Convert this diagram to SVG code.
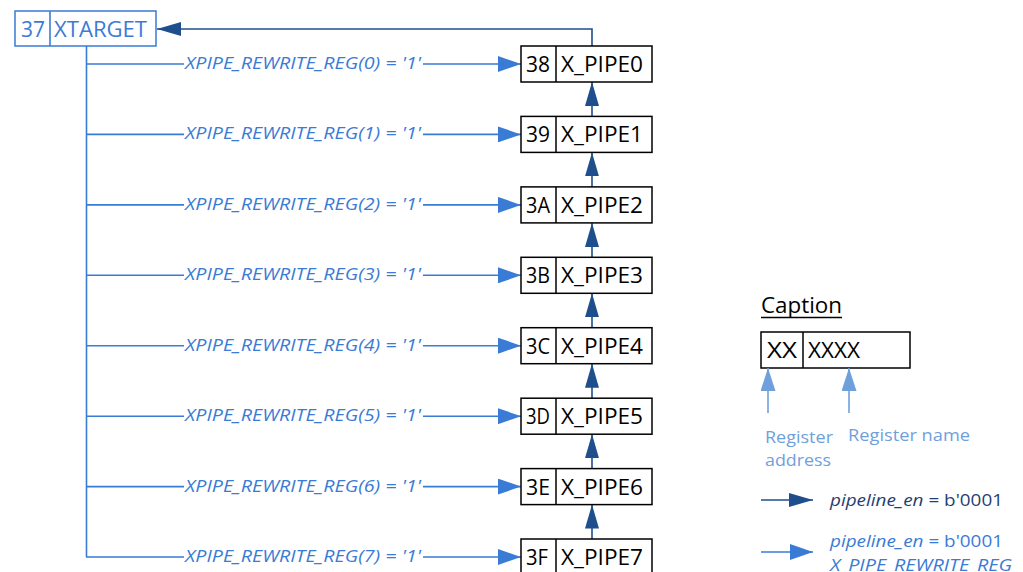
<svg xmlns="http://www.w3.org/2000/svg" width="1023" height="572" viewBox="0 0 1023 572">
<style>
.box{fill:#fff;stroke:#000;stroke-width:1.5}
.tbox{fill:#fff;stroke:#3a7bd5;stroke-width:1.5}
.bt{font-family:"Open Sans","DejaVu Sans",sans-serif;font-size:22px;fill:#000}
.tt{font-family:"Open Sans","DejaVu Sans",sans-serif;font-size:22px;fill:#3a7bd5}
.lbl{font-family:"Open Sans","DejaVu Sans",sans-serif;font-size:15.5px;font-style:italic;fill:#3a7bd5}
.bl{stroke:#3a7bd5;stroke-width:1.6;fill:none}
.dk{stroke:#1f4e8c;stroke-width:1.6;fill:none}
.lt{stroke:#6fa0dc;stroke-width:1.6;fill:none}
.cap{font-family:"Open Sans","DejaVu Sans",sans-serif;font-size:17px;fill:#6fa0dc}
.leg{font-family:"Open Sans","DejaVu Sans",sans-serif;font-size:16.5px}
</style>
<defs>
<marker id="ad" markerUnits="userSpaceOnUse" markerWidth="24" markerHeight="14" refX="24" refY="7" orient="auto"><path d="M0,0 L24,7 L0,14 z" fill="#1f4e8c"/></marker>
<marker id="ab" markerUnits="userSpaceOnUse" markerWidth="23" markerHeight="16" refX="23" refY="8" orient="auto"><path d="M0,0 L23,8 L0,16 z" fill="#3a7bd5"/></marker>
<marker id="al" markerUnits="userSpaceOnUse" markerWidth="23" markerHeight="15" refX="23" refY="7.5" orient="auto"><path d="M0,0 L23,7.5 L0,15 z" fill="#6fa0dc"/></marker>
</defs>

<g id="connectors">
<path class="bl" d="M86.5,46 V557"/>
<g class="bl">
<path d="M86,64 H184 M423,64 H521" marker-end="url(#ab)"/>
<path d="M86,134.4 H184 M423,134.4 H521" marker-end="url(#ab)"/>
<path d="M86,204.9 H184 M423,204.9 H521" marker-end="url(#ab)"/>
<path d="M86,275.3 H184 M423,275.3 H521" marker-end="url(#ab)"/>
<path d="M86,345.7 H184 M423,345.7 H521" marker-end="url(#ab)"/>
<path d="M86,416.2 H184 M423,416.2 H521" marker-end="url(#ab)"/>
<path d="M86,486.6 H184 M423,486.6 H521" marker-end="url(#ab)"/>
<path d="M86,557 H184 M423,557 H521" marker-end="url(#ab)"/>
</g>
<g class="lbl">
<text x="185" y="69" textLength="236" lengthAdjust="spacingAndGlyphs">XPIPE_REWRITE_REG(0) = '1'</text>
<text x="185" y="139.4" textLength="236" lengthAdjust="spacingAndGlyphs">XPIPE_REWRITE_REG(1) = '1'</text>
<text x="185" y="209.9" textLength="236" lengthAdjust="spacingAndGlyphs">XPIPE_REWRITE_REG(2) = '1'</text>
<text x="185" y="280.3" textLength="236" lengthAdjust="spacingAndGlyphs">XPIPE_REWRITE_REG(3) = '1'</text>
<text x="185" y="350.7" textLength="236" lengthAdjust="spacingAndGlyphs">XPIPE_REWRITE_REG(4) = '1'</text>
<text x="185" y="421.2" textLength="236" lengthAdjust="spacingAndGlyphs">XPIPE_REWRITE_REG(5) = '1'</text>
<text x="185" y="491.6" textLength="236" lengthAdjust="spacingAndGlyphs">XPIPE_REWRITE_REG(6) = '1'</text>
<text x="185" y="562" textLength="236" lengthAdjust="spacingAndGlyphs">XPIPE_REWRITE_REG(7) = '1'</text>
</g>
<path class="dk" d="M592,46 V29 H157" marker-end="url(#ad)"/>
<g class="dk">
<path d="M592,116.4 V82" marker-end="url(#ad)"/>
<path d="M592,186.9 V152.4" marker-end="url(#ad)"/>
<path d="M592,257.3 V222.9" marker-end="url(#ad)"/>
<path d="M592,327.7 V293.3" marker-end="url(#ad)"/>
<path d="M592,398.2 V363.7" marker-end="url(#ad)"/>
<path d="M592,468.6 V434.2" marker-end="url(#ad)"/>
<path d="M592,539 V504.6" marker-end="url(#ad)"/>
</g>
</g>

<g id="xtarget">
<rect class="tbox" x="15" y="11" width="141" height="35"/>
<path class="bl" d="M50,11 V46"/>
<text class="tt" x="21" y="37" textLength="24" lengthAdjust="spacingAndGlyphs">37</text>
<text class="tt" x="54" y="37" textLength="93" lengthAdjust="spacingAndGlyphs">XTARGET</text>
</g>

<g id="pipe0"><rect class="box" x="521" y="46" width="131" height="36"/><path class="box" d="M556,46 V82"/><text class="bt" x="526" y="72" textLength="24" lengthAdjust="spacingAndGlyphs">38</text><text class="bt" x="561" y="72" textLength="82" lengthAdjust="spacingAndGlyphs">X_PIPE0</text></g>
<g id="pipe1"><rect class="box" x="521" y="116.4" width="131" height="36"/><path class="box" d="M556,116.4 V152.4"/><text class="bt" x="526" y="142.4" textLength="24" lengthAdjust="spacingAndGlyphs">39</text><text class="bt" x="561" y="142.4" textLength="82" lengthAdjust="spacingAndGlyphs">X_PIPE1</text></g>
<g id="pipe2"><rect class="box" x="521" y="186.9" width="131" height="36"/><path class="box" d="M556,186.9 V222.9"/><text class="bt" x="526" y="212.9" textLength="24" lengthAdjust="spacingAndGlyphs">3A</text><text class="bt" x="561" y="212.9" textLength="82" lengthAdjust="spacingAndGlyphs">X_PIPE2</text></g>
<g id="pipe3"><rect class="box" x="521" y="257.3" width="131" height="36"/><path class="box" d="M556,257.3 V293.3"/><text class="bt" x="526" y="283.3" textLength="24" lengthAdjust="spacingAndGlyphs">3B</text><text class="bt" x="561" y="283.3" textLength="82" lengthAdjust="spacingAndGlyphs">X_PIPE3</text></g>
<g id="pipe4"><rect class="box" x="521" y="327.7" width="131" height="36"/><path class="box" d="M556,327.7 V363.7"/><text class="bt" x="526" y="353.7" textLength="24" lengthAdjust="spacingAndGlyphs">3C</text><text class="bt" x="561" y="353.7" textLength="82" lengthAdjust="spacingAndGlyphs">X_PIPE4</text></g>
<g id="pipe5"><rect class="box" x="521" y="398.2" width="131" height="36"/><path class="box" d="M556,398.2 V434.2"/><text class="bt" x="526" y="424.2" textLength="24" lengthAdjust="spacingAndGlyphs">3D</text><text class="bt" x="561" y="424.2" textLength="82" lengthAdjust="spacingAndGlyphs">X_PIPE5</text></g>
<g id="pipe6"><rect class="box" x="521" y="468.6" width="131" height="36"/><path class="box" d="M556,468.6 V504.6"/><text class="bt" x="526" y="494.6" textLength="24" lengthAdjust="spacingAndGlyphs">3E</text><text class="bt" x="561" y="494.6" textLength="82" lengthAdjust="spacingAndGlyphs">X_PIPE6</text></g>
<g id="pipe7"><rect class="box" x="521" y="539" width="131" height="36"/><path class="box" d="M556,539 V575"/><text class="bt" x="526" y="565" textLength="22" lengthAdjust="spacingAndGlyphs">3F</text><text class="bt" x="561" y="565" textLength="82" lengthAdjust="spacingAndGlyphs">X_PIPE7</text></g>

<g id="caption">
<text class="bt" x="761" y="313" font-size="21" textLength="81" lengthAdjust="spacingAndGlyphs">Caption</text>
<path d="M761,317.5 H842" stroke="#000" stroke-width="1.3"/>
<rect class="box" x="761" y="332" width="149" height="36"/>
<path class="box" d="M803,332 V368"/>
<text class="bt" x="767" y="358" textLength="30" lengthAdjust="spacingAndGlyphs">XX</text>
<text class="bt" x="808" y="358" textLength="52" lengthAdjust="spacingAndGlyphs">XXXX</text>
<path class="lt" d="M768,413 V368" marker-end="url(#al)"/>
<path class="lt" d="M849,413 V368" marker-end="url(#al)"/>
<text class="cap" x="765" y="443" textLength="68" lengthAdjust="spacingAndGlyphs">Register</text>
<text class="cap" x="765" y="466" textLength="66" lengthAdjust="spacingAndGlyphs">address</text>
<text class="cap" x="848" y="441" textLength="122" lengthAdjust="spacingAndGlyphs">Register name</text>
</g>

<g id="legend">
<path class="dk" d="M761,500 H813" marker-end="url(#ad)"/>
<text class="leg" x="830" y="506" fill="#1f3f73" textLength="173" lengthAdjust="spacingAndGlyphs"><tspan font-style="italic">pipeline_en</tspan> = b'0001</text>
<path class="bl" d="M761,552 H813" marker-end="url(#ab)"/>
<text class="leg" x="830" y="547" fill="#3a7bd5" textLength="173" lengthAdjust="spacingAndGlyphs"><tspan font-style="italic">pipeline_en</tspan> = b'0001</text>
<text class="leg" x="830" y="571" fill="#3a7bd5" font-style="italic" textLength="182" lengthAdjust="spacingAndGlyphs">X_PIPE_REWRITE_REG</text>
</g>
</svg>
